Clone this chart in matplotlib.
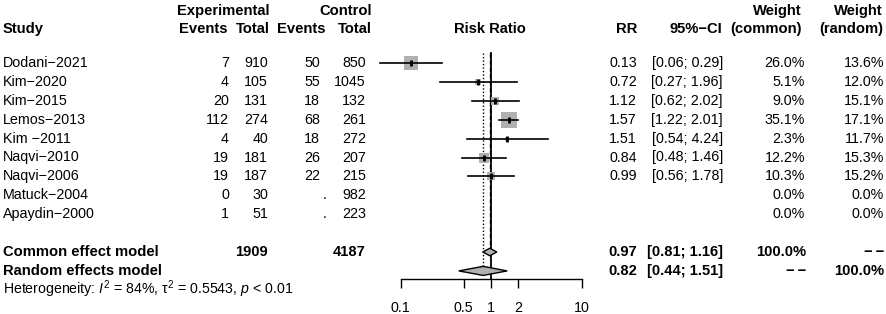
#!/usr/bin/env python3
"""Forest plot of risk ratios (meta-analysis style), rendered to out.png."""

import matplotlib

matplotlib.use("Agg")
import matplotlib.pyplot as plt

plt.rcParams["font.family"] = ["Liberation Sans", "DejaVu Sans"]
plt.rcParams["mathtext.fontset"] = "custom"
plt.rcParams["mathtext.rm"] = "Liberation Sans"
plt.rcParams["mathtext.it"] = "Liberation Sans:italic"

# ---- data -------------------------------------------------------------
studies = ["Dodani\u22122021", "Kim\u22122020", "Kim\u22122015", "Lemos\u22122013",
           "Kim \u22122011", "Naqvi\u22122010", "Naqvi\u22122006", "Matuck\u22122004",
           "Apaydin\u22122000"]
exp_events = [7, 4, 20, 112, 4, 19, 19, 0, 1]
exp_total = [910, 105, 131, 274, 40, 181, 187, 30, 51]
ctrl_events = [50, 55, 18, 68, 18, 26, 22, None, None]
ctrl_total = [850, 1045, 132, 261, 272, 207, 215, 982, 223]
rr = [0.13, 0.72, 1.12, 1.57, 1.51, 0.84, 0.99, None, None]
ci_lo = [0.06, 0.27, 0.62, 1.22, 0.54, 0.48, 0.56, None, None]
ci_hi = [0.29, 1.96, 2.02, 2.01, 4.24, 1.46, 1.78, None, None]
w_common = [26.0, 5.1, 9.0, 35.1, 2.3, 12.2, 10.3, 0.0, 0.0]
w_random = [13.6, 12.0, 15.1, 17.1, 11.7, 15.3, 15.2, 0.0, 0.0]

total_exp = 1909
total_ctrl = 4187
common_est, common_lo, common_hi = 0.97, 0.81, 1.16
random_est, random_lo, random_hi = 0.82, 0.44, 1.51
het_text = r"Heterogeneity: $I^2$ = 84%, τ${}^2$ = 0.5543, $p$ < 0.01"
NA = "\u2212\u2009\u2212"

axis_ticks = [0.1, 0.5, 1, 2, 10]

# ---- layout (pixels) --------------------------------------------------
W, H = 886, 314
ROW0, ROWH = 63.0, 18.9
FS = 10.3
FSB = 10.6
GRAY = "#b0b0b0"


def row_y(i):
    return ROW0 + ROWH * i


fig = plt.figure(figsize=(W / 100, H / 100), dpi=100)

# text layer in pixel coordinates
tax = fig.add_axes([0, 0, 1, 1])
tax.set_xlim(0, W)
tax.set_ylim(H, 0)
tax.axis("off")


def txt(x, y, s, ha="right", bold=False, size=None):
    if size is None:
        size = FSB if bold else FS
    tax.text(x, y, s, ha=ha, va="center", fontsize=size,
             fontweight="bold" if bold else "normal")


# headers
y1, y2 = 11, 29
txt(3, y2, "Study", ha="left", bold=True)
txt(223, y1, "Experimental", ha="center", bold=True)
txt(228, y2, "Events", bold=True)
txt(270, y2, "Total", bold=True)
txt(346, y1, "Control", ha="center", bold=True)
txt(326, y2, "Events", bold=True)
txt(372, y2, "Total", bold=True)
txt(490, y2, "Risk Ratio", ha="center", bold=True)
txt(637, y2, "RR", bold=True)
txt(722, y2, "95%\u2212CI", bold=True)
txt(802, y1, "Weight", bold=True)
txt(802, y2, "(common)", bold=True)
txt(883, y1, "Weight", bold=True)
txt(883, y2, "(random)", bold=True)

# study rows
for i, name in enumerate(studies):
    y = row_y(i)
    txt(3, y, name, ha="left")
    txt(229, y, str(exp_events[i]))
    txt(268, y, str(exp_total[i]))
    if ctrl_events[i] is None:
        txt(327, y, ".")
    else:
        txt(320, y, str(ctrl_events[i]))
    txt(366, y, str(ctrl_total[i]))
    if rr[i] is not None:
        txt(637, y, f"{rr[i]:.2f}")
        txt(723, y, f"[{ci_lo[i]:.2f}; {ci_hi[i]:.2f}]")
    txt(805, y, f"{w_common[i]:.1f}%")
    txt(884, y, f"{w_random[i]:.1f}%")

# summary rows
r_common = len(studies) + 1
r_random = r_common + 1
yc, yr = row_y(r_common), row_y(r_random)
txt(3, yc, "Common effect model", ha="left", bold=True)
txt(268, yc, str(total_exp), bold=True)
txt(366, yc, str(total_ctrl), bold=True)
txt(637, yc, f"{common_est:.2f}", bold=True)
txt(723, yc, f"[{common_lo:.2f}; {common_hi:.2f}]", bold=True)
txt(806, yc, "100.0%", bold=True)
txt(884, yc, NA, bold=True)
txt(3, yr, "Random effects model", ha="left", bold=True)
txt(637, yr, f"{random_est:.2f}", bold=True)
txt(723, yr, f"[{random_lo:.2f}; {random_hi:.2f}]", bold=True)
txt(806, yr, NA, bold=True)
txt(884, yr, "100.0%", bold=True)
txt(3, row_y(r_random + 1) - 1, het_text, ha="left", size=10.2)

# ---- forest panel -----------------------------------------------------
x_left, x_right = 400.5, 581.5      # pixels of 0.1 and 10
y_top, y_axis = 53.0, 279.0
ax = fig.add_axes([x_left / W, (H - y_axis) / H,
                   (x_right - x_left) / W, (y_axis - y_top) / H])
ax.set_xscale("log")
ax.set_xlim(0.1, 10)
r_top = (y_top - ROW0) / ROWH
r_bot = (y_axis - ROW0) / ROWH
ax.set_ylim(r_bot, r_top)
ax.patch.set_alpha(0)
for side in ("left", "right", "top"):
    ax.spines[side].set_visible(False)
ax.spines["bottom"].set_linewidth(1.0)
ax.set_yticks([])
ax.set_xticks(axis_ticks)
ax.set_xticklabels([f"{t:g}" for t in axis_ticks], fontsize=FS)
ax.minorticks_off()
ax.tick_params(axis="x", direction="out", length=6.5, width=1.0, pad=9)

# reference / summary lines
ax.plot([1, 1], [r_top, r_bot], color="black", lw=1.3, clip_on=False, zorder=1)
dh_c, dh_r = 0.2, 0.24
ax.plot([common_est] * 2, [r_top, r_common - dh_c], color="black", lw=1.0,
        ls=(0, (3, 2)), clip_on=False, zorder=1)
ax.plot([random_est] * 2, [r_top, r_random - dh_r], color="black", lw=1.0,
        ls=(0, (1, 1.5)), clip_on=False, zorder=1)

# study estimates
for i in range(len(studies)):
    if rr[i] is None:
        continue
    side = 1.98 * w_common[i] ** 0.5
    ax.scatter([rr[i]], [i], marker="s", s=side ** 2, color=GRAY,
               linewidths=0, zorder=2, clip_on=False)
    ax.plot([ci_lo[i], ci_hi[i]], [i, i], color="black", lw=1.2,
            zorder=3, clip_on=False)
    ax.plot([rr[i]], [i], marker="|", ms=5, mew=2, color="black",
            zorder=4, clip_on=False)

# diamonds
for est, lo, hi, r, dh in [(common_est, common_lo, common_hi, r_common, dh_c),
                           (random_est, random_lo, random_hi, r_random, dh_r)]:
    ax.fill([lo, est, hi, est], [r, r - dh, r, r + dh], facecolor=GRAY,
            edgecolor="black", lw=1.0, zorder=5, clip_on=False)

fig.savefig("out.png", dpi=100)
plt.close(fig)
